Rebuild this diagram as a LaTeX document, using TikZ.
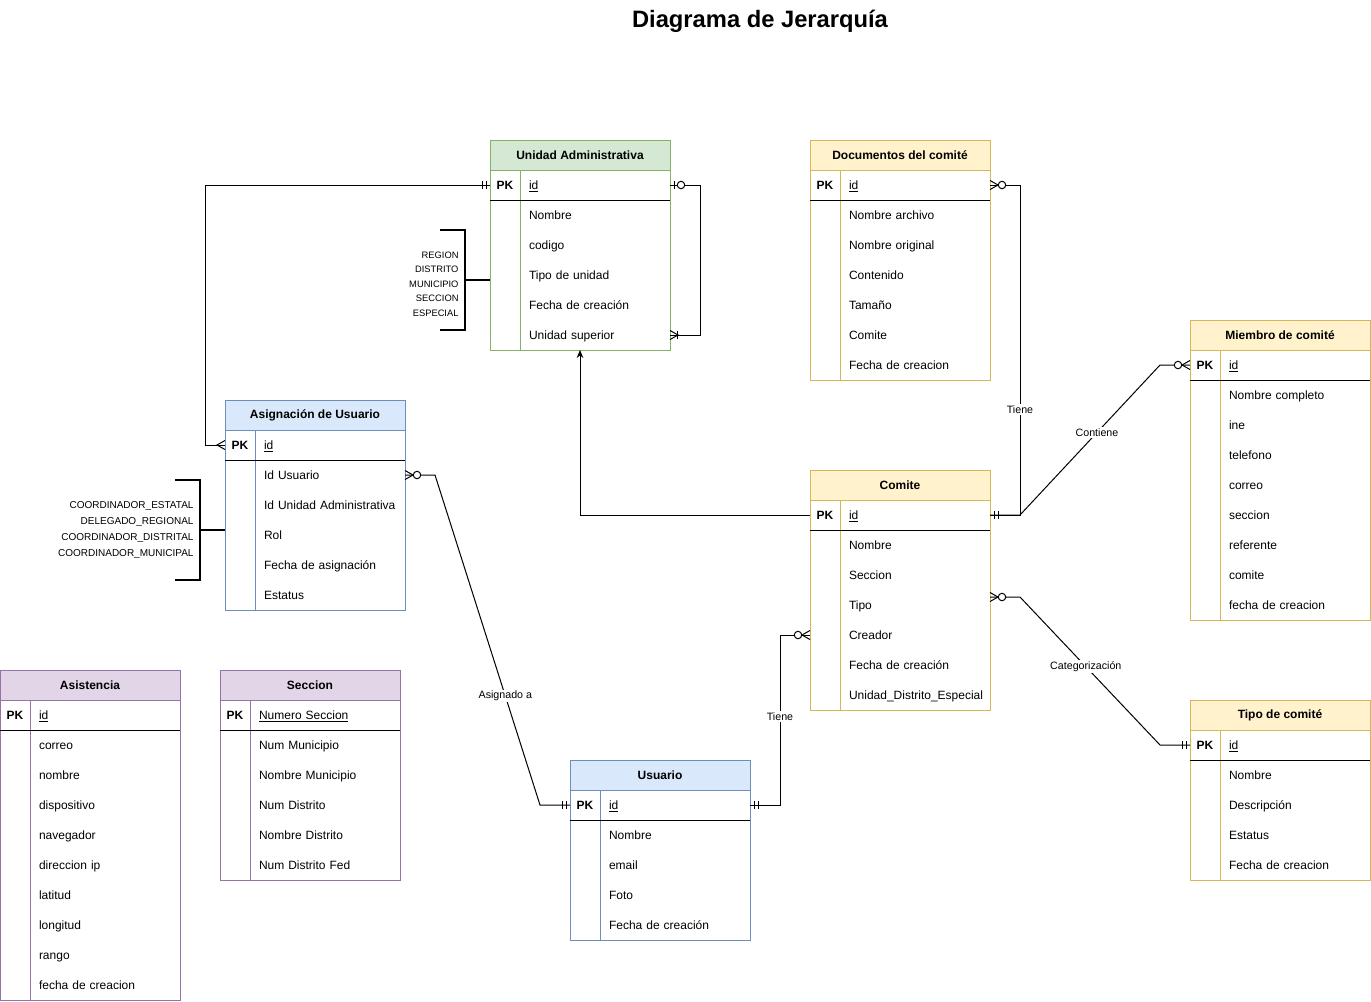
\documentclass[tikz,border=0pt]{standalone}
\usepackage{fontspec}
\setmainfont{Liberation Sans}
\usetikzlibrary{arrows.meta,calc,positioning}
\tikzset{
  >={Stealth[length=6pt,width=5pt]},
  ermany/.pic={\draw (0,-4.5) -- (8,0) -- (0,4.5);},
  erzeromany/.pic={\draw (0,-4.5) -- (8,0) -- (0,4.5); \draw[fill=white] (12,0) circle[radius=2.8pt];},
  ermandone/.pic={\draw (4,-4) -- (4,4) (8,-4) -- (8,4);},
  erzeroone/.pic={\draw (4,-4) -- (4,4); \draw[fill=white] (11,0) circle[radius=2.8pt];},
  eronemany/.pic={\draw (0,-4.5) -- (8,0) -- (0,4.5); \draw (7,-4) -- (7,4);}
}
\definecolor{grnfill}{HTML}{D5E8D4}\definecolor{grnline}{HTML}{82B366}
\definecolor{blufill}{HTML}{DAE8FC}\definecolor{bluline}{HTML}{6C8EBF}
\definecolor{yelfill}{HTML}{FFF2CC}\definecolor{yelline}{HTML}{D6B656}
\definecolor{purfill}{HTML}{E1D5E7}\definecolor{purline}{HTML}{9673A6}

% table: name, position, title, colour, rows, key, fields
\newcommand{\ertable}[7]{%
  \node[erhead, fill=#4fill, draw=#4line] (#1) at (#2) {#3};
  \node[errow] (#1-1) at (#1.south west) {\makebox[22.5pt]{\bfseries PK}\hspace{6.75pt}\underline{#6}};
  \foreach \f [count=\i from 2] in {#7} {
    \node[errow] (#1-\i) at ($(#1.south west)+(0,\i*30-30)$) {\hspace*{29.25pt}\f};
  }
  \draw[#4line] (#1.north west) rectangle (#1-#5.south east);
  \draw[#4line] ($(#1-1.north west)+(30,0)$) -- ($(#1-#5.south west)+(30,0)$);
  \draw (#1-1.south west) -- (#1-1.south east);
}

\begin{document}
\begin{tikzpicture}[x=0.75pt, y=-0.75pt, line width=0.75pt,
    erhead/.style={anchor=north west,minimum width=135pt,minimum height=22.5pt,inner sep=0,outer sep=0,font=\bfseries\fontsize{9}{11}\selectfont},
    errow/.style={anchor=north west,minimum height=22.5pt,text width=135pt,text height=7pt,text depth=0.3pt,inner sep=0,outer sep=0,align=left,font=\fontsize{9}{11}\selectfont},
    lbl/.style={fill=white,inner sep=1pt,font=\fontsize{8}{9}\selectfont},
    brk/.style={line width=1.5pt},
    enum/.style={anchor=east,align=right,inner sep=0}
  ]
    \useasboundingbox (0,0) rectangle (1371,1001);
    \node (title) at (760,21) [font=\bfseries\fontsize{17.8}{21}\selectfont] {Diagrama de Jerarquía};

    \ertable{UA}{490,140}{Unidad Administrativa}{grn}{6}{id}{Nombre,codigo,Tipo de unidad,Fecha de creación,Unidad superior}
    \ertable{DC}{810,140}{Documentos del comité}{yel}{7}{id}{Nombre archivo,Nombre original,Contenido,Tamaño,Comite,Fecha de creacion}
    \ertable{MB}{1190,320}{Miembro de comité}{yel}{9}{id}{Nombre completo,ine,telefono,correo,seccion,referente,comite,fecha de creacion}
    \ertable{AS}{225,400}{Asignación de Usuario}{blu}{6}{id}{Id Usuario,Id Unidad Administrativa,Rol,Fecha de asignación,Estatus}
    \ertable{CO}{810,470}{Comite}{yel}{7}{id}{Nombre,Seccion,Tipo,Creador,Fecha de creación,Unidad\_Distrito\_Especial}
    \ertable{AT}{0,670}{Asistencia}{pur}{10}{id}{correo,nombre,dispositivo,navegador,direccion ip,latitud,longitud,rango,fecha de creacion}
    \ertable{SE}{220,670}{Seccion}{pur}{6}{Numero Seccion}{Num Municipio,Nombre Municipio,Num Distrito,Nombre Distrito,Num Distrito Fed}
    \ertable{US}{570,760}{Usuario}{blu}{5}{id}{Nombre,email,Foto,Fecha de creación}
    \ertable{TC}{1190,700}{Tipo de comité}{yel}{5}{id}{Nombre,Descripción,Estatus,Fecha de creacion}

    % value lists
    \node[enum, font=\fontsize{7}{10.9}\selectfont] (tiposUA) at (459,284) {REGION\\DISTRITO\\MUNICIPIO\\SECCION\\ESPECIAL};
    \draw[brk] (440,230) -| (465,330) -- (440,330);
    \draw[brk] (465,280) -- ($(UA-4.west)+(0,5)$);
    \node[enum, font=\fontsize{7.5}{12}\selectfont] (roles) at (194,530) {COORDINADOR\_ESTATAL\\DELEGADO\_REGIONAL\\COORDINADOR\_DISTRITAL\\COORDINADOR\_MUNICIPAL};
    \draw[brk] (175,480) -| (200,580) -- (175,580);
    \draw[brk] (200,530) -- ($(AS-4.west)+(0,-5)$);

    % relations
    \draw (UA-1.west) -- ++(-285,0) |- (AS-1.west);
    \draw (UA-1.east) -- ++(30,0) |- (UA-6.east);
    \draw[->] (CO-1.west) -| (UA-6.south);
    \draw (DC-1.east) -- ++(30,0) |- node[lbl,pos=0.34] {Tiene} (CO-1.east);
    \draw (CO-1.east) -- ++(30,0) -- node[lbl,pos=0.55] {Contiene} ($(MB-1.west)+(-30,0)$) -- (MB-1.west);
    \draw ($(CO-4.east)+(0,-8)$) -- ++(30,0) -- node[lbl,pos=0.47] {Categorización} ($(TC-1.west)+(-30,0)$) -- (TC-1.west);
    \draw (AS-2.east) -- ++(30,0) -- node[lbl,pos=0.67] {Asignado a} ($(US-1.west)+(-30,0)$) -- (US-1.west);
    \draw (US-1.east) -- ++(30,0) |- node[lbl,pos=0.26] {Tiene} (CO-5.west);

    % ends
    \pic[rotate=180] at (UA-1.west) {ermandone};
    \pic[rotate=180] at (AS-1.west) {ermany};
    \pic at (UA-1.east) {erzeroone};
    \pic at (UA-6.east) {eronemany};
    \pic at (DC-1.east) {erzeromany};
    \pic at (CO-1.east) {ermandone};
    \pic[rotate=180] at (MB-1.west) {erzeromany};
    \pic at ($(CO-4.east)+(0,-8)$) {erzeromany};
    \pic[rotate=180] at (TC-1.west) {ermandone};
    \pic at (AS-2.east) {erzeromany};
    \pic[rotate=180] at (US-1.west) {ermandone};
    \pic at (US-1.east) {ermandone};
    \pic[rotate=180] at (CO-5.west) {erzeromany};
\end{tikzpicture}
\end{document}
